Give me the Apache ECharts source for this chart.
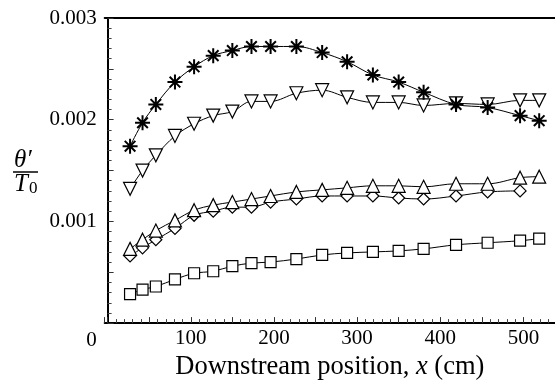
<!DOCTYPE html>
<html>
<head>
<meta charset="utf-8">
<style>
  html, body { margin: 0; padding: 0; background: #fff; }
  #chart { width: 555px; height: 386px; }
</style>
<script src="https://cdn.jsdelivr.net/npm/echarts@6/dist/echarts.min.js"></script>
</head>
<body>
<div id="chart"></div>
<script>
// Measurement stations along the channel (cm)
const stations = [27, 42, 58, 81, 104, 127, 150, 173, 196, 227, 258, 288, 319, 350, 380, 419, 457, 496, 519];

// Normalised temperature fluctuation theta'/T0 at each station
const starSeries = [0.00174, 0.00197, 0.00215, 0.00237, 0.00252, 0.00263, 0.00268, 0.00272, 0.00272, 0.00272, 0.00266, 0.00257, 0.00244, 0.00237, 0.00227, 0.00215, 0.00212, 0.00204, 0.00199];
const triDownSeries = [0.00132, 0.00150, 0.00165, 0.00184, 0.00196, 0.00204, 0.00208, 0.00218, 0.00218, 0.00226, 0.00229, 0.00222, 0.00217, 0.00217, 0.00214, 0.00216, 0.00215, 0.00219, 0.00219];
const triUpSeries = [0.00073, 0.00082, 0.00091, 0.00101, 0.00111, 0.00116, 0.00119, 0.00122, 0.00125, 0.00129, 0.00131, 0.00133, 0.00135, 0.00135, 0.00134, 0.00137, 0.00137, 0.00143, 0.00144];
const diamondSeries = [0.00066, 0.00074, 0.00082, 0.00093, 0.00106, 0.00110, 0.00114, 0.00114, 0.00119, 0.00122, 0.00125, 0.00125, 0.00125, 0.00123, 0.00122, 0.00125, 0.00129, 0.00130];
const squareSeries = [0.000285, 0.00033, 0.00036, 0.00043, 0.00049, 0.00051, 0.00056, 0.00059, 0.00060, 0.00063, 0.00067, 0.00069, 0.00070, 0.00071, 0.00073, 0.00077, 0.00079, 0.00081, 0.00083];

// Axis tick labels
const xTickLabels = [100, 200, 300, 400, 500];
const yTickLabels = [0, 0.001, 0.002, 0.003];

const serif = '"Liberation Serif", "Times New Roman", serif';
const starPath = 'path://M10,0L10,20M0,10L20,10M2.93,2.93L17.07,17.07M2.93,17.07L17.07,2.93';

function pairs(values) {
  return values.map((v, i) => [stations[i], v]);
}

function curve(values, symbol, size, extra) {
  return Object.assign({
    type: 'line',
    data: pairs(values),
    smooth: 0.35,
    symbol: symbol,
    symbolSize: size,
    showAllSymbol: true,
    lineStyle: { color: '#000', width: 1 },
    itemStyle: { color: '#fff', borderColor: '#000', borderWidth: 1.2 },
    emphasis: { disabled: true },
    silent: true
  }, extra || {});
}

const chart = echarts.init(document.getElementById('chart'), null, { renderer: 'canvas' });

chart.setOption({
  animation: false,
  backgroundColor: '#fff',
  grid: { left: 104.7, right: 0, top: 18, bottom: 58 },
  xAxis: [{
    type: 'value',
    min: -3.5,
    max: 538,
    splitNumber: 11,
    axisLine: { show: true, lineStyle: { color: '#000', width: 2 } },
    axisTick: { show: true, inside: true, length: 6, lineStyle: { color: '#333', width: 1 } },
    minorTick: { show: true, splitNumber: 5, length: 4, lineStyle: { color: '#444', width: 1 } },
    splitLine: { show: false },
    axisLabel: {
      margin: 5,
      fontFamily: serif,
      fontSize: 21,
      color: '#000',
      showMinLabel: false,
      showMaxLabel: false,
      formatter: v => (xTickLabels.indexOf(v) >= 0 ? String(v) : '')
    },
    name: '{t|Downstream position, }{i|x}{t| (cm)}',
    nameLocation: 'middle',
    nameGap: 20,
    nameTextStyle: {
      rich: {
        t: { fontFamily: serif, fontSize: 26.5, color: '#000' },
        i: { fontFamily: serif, fontSize: 26.5, fontStyle: 'italic', color: '#000' }
      }
    }
  }, {
    type: 'value',
    position: 'top',
    min: -3.5,
    max: 538,
    axisLine: { show: true, onZero: false, lineStyle: { color: '#000', width: 2 } },
    axisTick: { show: false },
    axisLabel: { show: false },
    splitLine: { show: false }
  }],
  yAxis: {
    type: 'value',
    min: 0,
    max: 0.003,
    interval: 0.0005,
    axisLine: { show: true, lineStyle: { color: '#000', width: 2 } },
    axisTick: { show: true, inside: true, length: 6, lineStyle: { color: '#333', width: 1 } },
    minorTick: { show: true, splitNumber: 5, length: 4, lineStyle: { color: '#444', width: 1 } },
    splitLine: { show: false },
    axisLabel: {
      margin: 8,
      fontFamily: serif,
      fontSize: 21,
      color: '#000',
      formatter: function (v) {
        const r = Math.round(v * 10000) / 10000;
        if (r === 0) return '{z|0}';
        const hit = yTickLabels.find(t => Math.abs(t - r) < 1e-9);
        return hit !== undefined ? hit.toFixed(3) : '';
      },
      rich: {
        z: { fontFamily: serif, fontSize: 21, color: '#000', padding: [34, 0, 0, 0] }
      }
    }
  },
  graphic: [
    { type: 'text', left: 14, top: 148, style: { text: 'θ′', font: 'italic 25px ' + serif, fill: '#000' } },
    { type: 'line', shape: { x1: 13, y1: 172, x2: 38, y2: 172 }, style: { stroke: '#000', lineWidth: 1.5 } },
    { type: 'text', left: 14, top: 172, style: { text: 'T', font: 'italic 25px ' + serif, fill: '#000' } },
    { type: 'text', left: 29, top: 180, style: { text: '0', font: '17px ' + serif, fill: '#000' } }
  ],
  series: [
    curve(squareSeries, 'rect', 11),
    curve(diamondSeries, 'diamond', 12),
    curve(triUpSeries, 'triangle', 13),
    curve(triDownSeries, 'triangle', 13, { symbolRotate: 180 }),
    curve(starSeries, starPath, 15, { itemStyle: { color: '#000', borderColor: '#000', borderWidth: 2 } })
  ]
});
</script>
</body>
</html>
